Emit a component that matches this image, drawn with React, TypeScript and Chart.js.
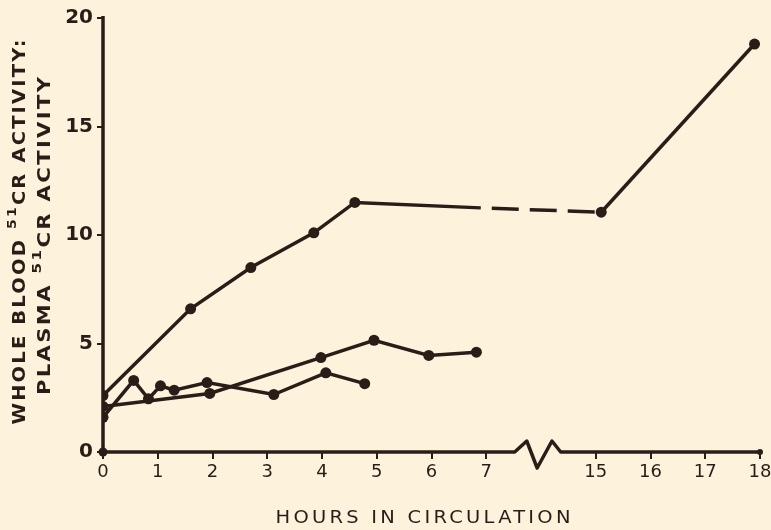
import React, { useEffect, useRef } from "react";
import { Chart, registerables } from "chart.js";

Chart.register(...registerables);

// Hours in circulation (real hours) and whole blood : plasma 51Cr activity ratio
const hoursA = [0, 1.6, 2.7, 3.85, 4.6, 6.9, 15.1, 17.9];
const ratioA = [2.6, 6.6, 8.5, 10.1, 11.5, 11.25, 11.05, 18.8];
const markerA = [true, true, true, true, true, false, true, true];

const hoursB = [0, 1.95, 3.98, 4.95, 5.95, 6.82];
const ratioB = [2.1, 2.7, 4.35, 5.15, 4.45, 4.6];

const hoursC = [0, 0.56, 0.83, 1.05, 1.3, 1.9, 3.12, 4.07, 4.78];
const ratioC = [1.6, 3.3, 2.45, 3.05, 2.85, 3.2, 2.65, 3.65, 3.15];

const xTickHours = [0, 1, 2, 3, 4, 5, 6, 7, 15, 16, 17, 18];
const yTickValues = [0, 5, 10, 15, 20];

const xTitle = "HOURS IN CIRCULATION";
// each title line: [before, superscript, after]
const yTitleLines = [
  ["WHOLE BLOOD ", "51", "CR ACTIVITY:"],
  ["PLASMA ", "51", "CR ACTIVITY"],
];

const INK = "#2a1d18";
const BG = "#fdf3dd";
const FONT = "'DejaVu Sans', sans-serif";

// axis break: 7 -> 15 hours collapsed
const toAxis = (h: number) => (h <= 7 ? h : h - 6);
const fromAxis = (v: number) => (v <= 7.5 ? v : v + 6);

const decor = {
  id: "decor",
  beforeDraw(chart: any) {
    const ctx = chart.ctx;
    ctx.save();
    ctx.fillStyle = BG;
    ctx.fillRect(0, 0, chart.width, chart.height);
    ctx.restore();
  },
  afterDraw(chart: any) {
    const { ctx, chartArea, scales } = chart;
    const { left, right, bottom } = chartArea;
    const x = scales.x;
    const y = scales.y;
    ctx.save();
    ctx.strokeStyle = INK;
    ctx.fillStyle = INK;
    ctx.lineWidth = 3.5;
    ctx.lineJoin = "round";
    ctx.lineCap = "butt";
    // y axis
    ctx.beginPath();
    ctx.moveTo(left, y.getPixelForValue(20) - 2);
    ctx.lineTo(left, bottom);
    ctx.stroke();
    // x axis with zigzag break
    ctx.beginPath();
    ctx.moveTo(left, bottom);
    ctx.lineTo(x.getPixelForValue(7.52), bottom);
    ctx.lineTo(x.getPixelForValue(7.74), bottom - 11);
    ctx.lineTo(x.getPixelForValue(7.93), bottom + 16);
    ctx.lineTo(x.getPixelForValue(8.2), bottom - 11);
    ctx.lineTo(x.getPixelForValue(8.36), bottom);
    ctx.lineTo(right, bottom);
    ctx.stroke();
    ctx.beginPath();
    ctx.arc(left, bottom, 4.5, 0, Math.PI * 2);
    ctx.fill();
    ctx.beginPath();
    ctx.arc(right, bottom, 3, 0, Math.PI * 2);
    ctx.fill();

    ctx.textBaseline = "middle";
    ctx.textAlign = "left";
    const lsp = (v: number) => ((ctx as any).letterSpacing = `${v}px`);

    // x title, stretched horizontally to its target width
    ctx.font = `18px ${FONT}`;
    lsp(3);
    const wx = ctx.measureText(xTitle).width - 3;
    ctx.save();
    ctx.translate(423, 518);
    ctx.scale(295 / wx, 1);
    ctx.fillText(xTitle, -wx / 2, 0);
    ctx.restore();

    // y title (two rotated lines, with raised superscript)
    const bigFont = `bold 18px ${FONT}`;
    const supFont = `bold 13px ${FONT}`;
    const specs = [
      { cx: 20, cy: 232, len: 385 },
      { cx: 45, cy: 236, len: 318 },
    ];
    yTitleLines.forEach((parts, i) => {
      const s = specs[i];
      lsp(2);
      ctx.font = bigFont;
      const a = ctx.measureText(parts[0]).width;
      const c = ctx.measureText(parts[2]).width;
      ctx.font = supFont;
      const b = ctx.measureText(parts[1]).width;
      const w = a + b + c - 2;
      ctx.save();
      ctx.translate(s.cx, s.cy);
      ctx.rotate(-Math.PI / 2);
      ctx.scale(s.len / w, 1);
      let px = -w / 2;
      ctx.font = bigFont;
      ctx.fillText(parts[0], px, 0);
      px += a;
      ctx.font = supFont;
      ctx.fillText(parts[1], px, -7);
      px += b;
      ctx.font = bigFont;
      ctx.fillText(parts[2], px, 0);
      ctx.restore();
    });
    lsp(0);
    ctx.restore();
  },
};

function mk(hours: number[], vals: number[]) {
  return hours.map((h, i) => ({ x: toAxis(h), y: vals[i] }));
}

export default function App() {
  const ref = useRef<HTMLCanvasElement | null>(null);
  useEffect(() => {
    if (!ref.current) return;
    const common = {
      borderColor: INK,
      backgroundColor: INK,
      pointBackgroundColor: INK,
      pointBorderColor: INK,
      borderWidth: 3.5,
      pointBorderWidth: 0,
      tension: 0,
      fill: false,
    };
    const chart = new Chart(ref.current, {
      type: "line",
      data: {
        datasets: [
          {
            ...common,
            label: "A",
            data: mk(hoursA, ratioA),
            pointRadius: markerA.map((m) => (m ? 5.5 : 0)),
            segment: {
              borderDash: (c: any) => (c.p0DataIndex === 5 ? [27, 11] : undefined),
              borderDashOffset: (c: any) => (c.p0DataIndex === 5 ? 27 : 0),
            },
          },
          { ...common, label: "B", data: mk(hoursB, ratioB), pointRadius: 5.5 },
          { ...common, label: "C", data: mk(hoursC, ratioC), pointRadius: 5.5 },
        ],
      } as any,
      options: {
        animation: false,
        responsive: false,
        devicePixelRatio: 1,
        layout: { padding: { top: 18, right: 11, left: 0, bottom: 0 } },
        plugins: { legend: { display: false }, tooltip: { enabled: false }, title: { display: false } },
        scales: {
          x: {
            type: "linear",
            min: 0,
            max: 12,
            afterBuildTicks: (s: any) => {
              s.ticks = xTickHours.map((h) => ({ value: toAxis(h) }));
            },
            afterFit: (s: any) => {
              s.height = 78;
              s.paddingLeft = 0;
              s.paddingRight = 0;
            },
            ticks: {
              autoSkip: false,
              maxRotation: 0,
              padding: 3,
              color: INK,
              font: { family: FONT, size: 18 },
              callback: (v: any) => String(Math.round(fromAxis(Number(v)))),
            },
            grid: { drawOnChartArea: false, drawTicks: true, tickLength: 7, color: INK, lineWidth: 2 },
            border: { display: false },
          },
          y: {
            type: "linear",
            min: 0,
            max: 20,
            afterBuildTicks: (s: any) => {
              s.ticks = yTickValues.map((v) => ({ value: v }));
            },
            afterFit: (s: any) => {
              s.width = 103;
              s.paddingTop = 0;
              s.paddingBottom = 0;
            },
            ticks: {
              padding: 4,
              color: INK,
              font: { family: FONT, size: 20, weight: "bold" },
            },
            grid: { drawOnChartArea: false, drawTicks: true, tickLength: 6, color: INK, lineWidth: 2 },
            border: { display: false },
          },
        },
      } as any,
      plugins: [decor],
    });
    return () => chart.destroy();
  }, []);
  return (
    <div style={{ position: "fixed", left: 0, top: 0, width: 771, height: 530, background: BG }}>
      <canvas ref={ref} width={771} height={530} style={{ display: "block" }} />
    </div>
  );
}
